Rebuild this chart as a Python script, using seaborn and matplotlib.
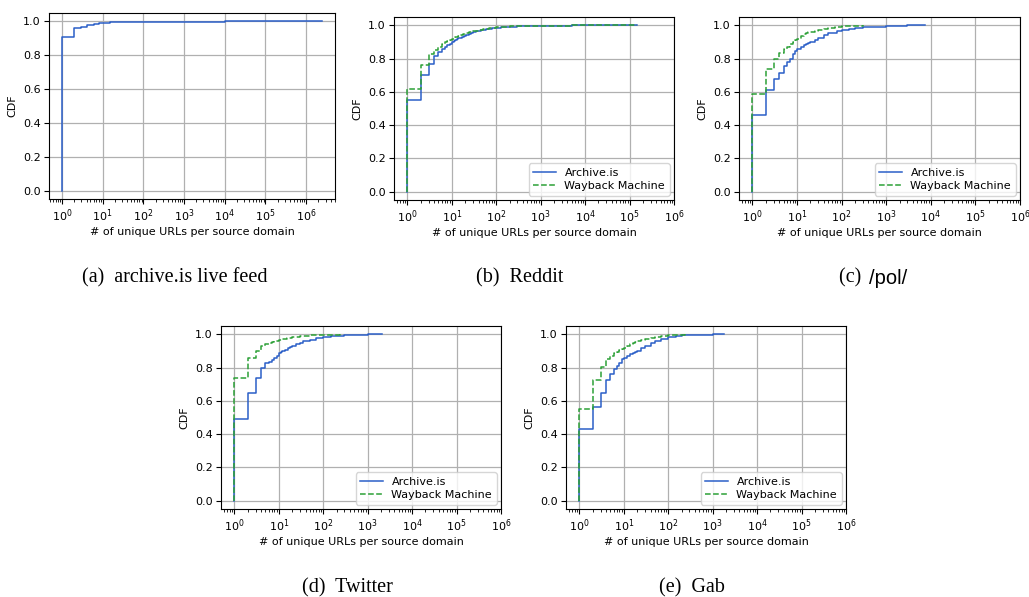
import numpy as np
import pandas as pd
import matplotlib
matplotlib.use("Agg")
import matplotlib.pyplot as plt
import seaborn as sns

# ---------------- data ----------------
# (a) archive.is live feed
live_x = [1, 1, 2, 3, 4, 5, 6, 7, 8, 9, 10, 12, 15, 20, 30, 50, 100, 300, 1000, 10000, 2500000]
live_y = [0, 0.91, 0.96, 0.97, 0.977, 0.981, 0.984, 0.986, 0.988, 0.989, 0.990, 0.992, 0.994, 0.995,
          0.997, 0.998, 0.9988, 0.9993, 0.9996, 0.9999, 1.0]

# (b) Reddit
reddit_ai_x = [1, 1, 2, 3, 4, 5, 6, 7, 8, 9, 10, 11, 12, 13, 14, 15, 17, 19, 21, 24, 27, 30, 35, 40,
               45, 50, 60, 70, 80, 90, 100, 130, 160, 200, 300, 500, 700, 1000, 2000, 5000, 20000, 150000]
reddit_ai_y = [0, 0.55, 0.70, 0.77, 0.815, 0.84, 0.857, 0.870, 0.881, 0.890, 0.898, 0.905, 0.911,
               0.916, 0.921, 0.925, 0.932, 0.938, 0.943, 0.949, 0.954, 0.958, 0.963, 0.967, 0.970,
               0.972, 0.976, 0.979, 0.981, 0.983, 0.984, 0.987, 0.989, 0.991, 0.993, 0.995, 0.996,
               0.997, 0.998, 0.999, 0.9995, 1.0]
reddit_wb_x = [1, 1, 2, 3, 4, 5, 6, 7, 8, 9, 10, 12, 14, 16, 18, 20, 25, 30, 40, 50, 70, 100, 150,
               200, 300, 500, 1000, 5000, 150000]
reddit_wb_y = [0, 0.615, 0.76, 0.825, 0.852, 0.872, 0.886, 0.897, 0.906, 0.913, 0.92, 0.93, 0.938,
               0.944, 0.949, 0.953, 0.961, 0.966, 0.973, 0.977, 0.983, 0.987, 0.991, 0.993, 0.995,
               0.997, 0.998, 0.9993, 1.0]

# (c) /pol/
pol_ai_x = [1, 1, 2, 3, 4, 5, 6, 7, 8, 9, 10, 12, 14, 16, 18, 20, 25, 30, 40, 50, 60, 80, 100, 150,
            200, 300, 500, 1000, 3000, 7600]
pol_ai_y = [0, 0.46, 0.61, 0.68, 0.715, 0.755, 0.78, 0.795, 0.83, 0.845, 0.855, 0.87, 0.88, 0.888,
            0.895, 0.90, 0.912, 0.924, 0.94, 0.951, 0.956, 0.964, 0.971, 0.978, 0.983, 0.988, 0.992,
            0.996, 0.999, 1.0]
pol_wb_x = [1, 1, 2, 3, 4, 5, 6, 7, 8, 9, 10, 12, 14, 16, 18, 20, 25, 30, 40, 50, 70, 100, 150, 200, 300]
pol_wb_y = [0, 0.59, 0.735, 0.80, 0.835, 0.855, 0.87, 0.885, 0.90, 0.91, 0.92, 0.935, 0.945, 0.952,
            0.957, 0.96, 0.967, 0.972, 0.978, 0.982, 0.988, 0.995, 0.997, 0.998, 1.0]

# (d) Twitter
tw_ai_x = [1, 1, 2, 3, 4, 5, 6, 7, 8, 9, 10, 11, 12, 14, 16, 18, 20, 25, 30, 35, 40, 50, 70, 100,
           150, 200, 300, 500, 1000, 2150]
tw_ai_y = [0, 0.49, 0.65, 0.735, 0.80, 0.825, 0.835, 0.845, 0.855, 0.87, 0.89, 0.895, 0.90, 0.908,
           0.915, 0.922, 0.93, 0.94, 0.95, 0.957, 0.962, 0.968, 0.976, 0.985, 0.989, 0.992, 0.995,
           0.997, 0.999, 1.0]
tw_wb_x = [1, 1, 2, 3, 4, 5, 6, 7, 8, 10, 12, 15, 20, 30, 50, 100, 240]
tw_wb_y = [0, 0.74, 0.855, 0.90, 0.93, 0.94, 0.95, 0.955, 0.96, 0.968, 0.974, 0.98, 0.986, 0.991,
           0.995, 0.998, 1.0]

# (e) Gab
gab_ai_x = [1, 1, 2, 3, 4, 5, 6, 7, 8, 9, 10, 12, 14, 16, 18, 20, 25, 30, 40, 50, 70, 100, 150, 200,
            300, 500, 1000, 1800]
gab_ai_y = [0, 0.43, 0.565, 0.65, 0.725, 0.76, 0.79, 0.81, 0.83, 0.85, 0.857, 0.87, 0.88, 0.888,
            0.895, 0.90, 0.915, 0.928, 0.945, 0.957, 0.972, 0.983, 0.99, 0.994, 0.996, 0.998, 0.999, 1.0]
gab_wb_x = [1, 1, 2, 3, 4, 5, 6, 7, 8, 9, 10, 12, 14, 16, 18, 20, 25, 30, 40, 50, 70, 100, 150, 235]
gab_wb_y = [0, 0.55, 0.725, 0.805, 0.85, 0.87, 0.885, 0.895, 0.905, 0.912, 0.918, 0.93, 0.94, 0.947,
            0.952, 0.957, 0.965, 0.972, 0.98, 0.985, 0.99, 0.994, 0.998, 1.0]

series_names = ["Archive.is", "Wayback Machine"]
y_ticks = [0.0, 0.2, 0.4, 0.6, 0.8, 1.0]
x_label = "# of unique URLs per source domain"
y_label = "CDF"

# ---------------- style ----------------
BLUE = "#2b5fc8"
GREEN = "#2ca037"
FS = 8

W, H = 1029, 597
fig = plt.figure(figsize=(W / 100, H / 100), dpi=100)


def make_ax(l, r, t, b):
    return fig.add_axes([l / W, 1 - b / H, (r - l) / W, (b - t) / H])


def style_ax(ax, xlim):
    ax.set_xscale("log")
    ax.set_xlim(*xlim)
    ax.set_ylim(-0.05, 1.05)
    ax.set_yticks(y_ticks)
    ax.set_xticks([10.0 ** k for k in range(7)])
    ax.grid(True, which="major", color="#b0b0b0", linewidth=0.9)
    ax.set_axisbelow(True)
    ax.tick_params(labelsize=FS, width=0.8, length=3.5, pad=2.5)
    ax.tick_params(which="minor", length=2, width=0.6)
    ax.set_xlabel(x_label, fontsize=FS, labelpad=2)
    ax.set_ylabel(y_label, fontsize=FS, labelpad=4)
    for s in ax.spines.values():
        s.set_linewidth(0.8)
        s.set_color("black")


def draw(ax, x, y, color, ls, label):
    sns.lineplot(x=x, y=y, ax=ax, color=color, linestyle=ls, linewidth=1.1,
                 drawstyle="steps-post", estimator=None, sort=False,
                 label=label, legend=False)


# (a)
ax_a = make_ax(49, 335, 13, 199)
ax_a.set_xscale("log")
draw(ax_a, live_x, live_y, BLUE, "-", None)
style_ax(ax_a, (10 ** -0.32, 10 ** 6.71))

panels = [
    ((394, 674, 17, 200), reddit_ai_x, reddit_ai_y, reddit_wb_x, reddit_wb_y),
    ((739, 1020, 17, 200), pol_ai_x, pol_ai_y, pol_wb_x, pol_wb_y),
    ((221, 501, 326, 509), tw_ai_x, tw_ai_y, tw_wb_x, tw_wb_y),
    ((566, 846, 326, 509), gab_ai_x, gab_ai_y, gab_wb_x, gab_wb_y),
]
for box, ax_x, ax_y, wb_x, wb_y in panels:
    ax = make_ax(*box)
    ax.set_xscale("log")
    draw(ax, ax_x, ax_y, BLUE, "-", series_names[0])
    draw(ax, wb_x, wb_y, GREEN, "--", series_names[1])
    style_ax(ax, (10 ** -0.3, 1e6))
    ax.legend(loc="lower right", fontsize=FS, framealpha=0.8, borderpad=0.4,
              handlelength=2.0, labelspacing=0.3, borderaxespad=0.4)

# ---------------- captions ----------------
SERIF = ["Liberation Serif", "DejaVu Serif"]
SANS = ["Liberation Sans", "DejaVu Sans"]
CFS = 14.5


def cap(x, y, s, ha="center", family=SERIF):
    fig.text(x / W, 1 - y / H, s, ha=ha, va="center", fontsize=CFS, family=family)


cap(175, 278, "(a)  archive.is live feed")
cap(520, 278, "(b)  Reddit")
cap(866, 278, "(c) ", ha="right")
cap(869, 278, "/pol/", ha="left", family=SANS)
cap(347, 588, "(d)  Twitter")
cap(692, 588, "(e)  Gab")

fig.savefig("out.png", dpi=100)
